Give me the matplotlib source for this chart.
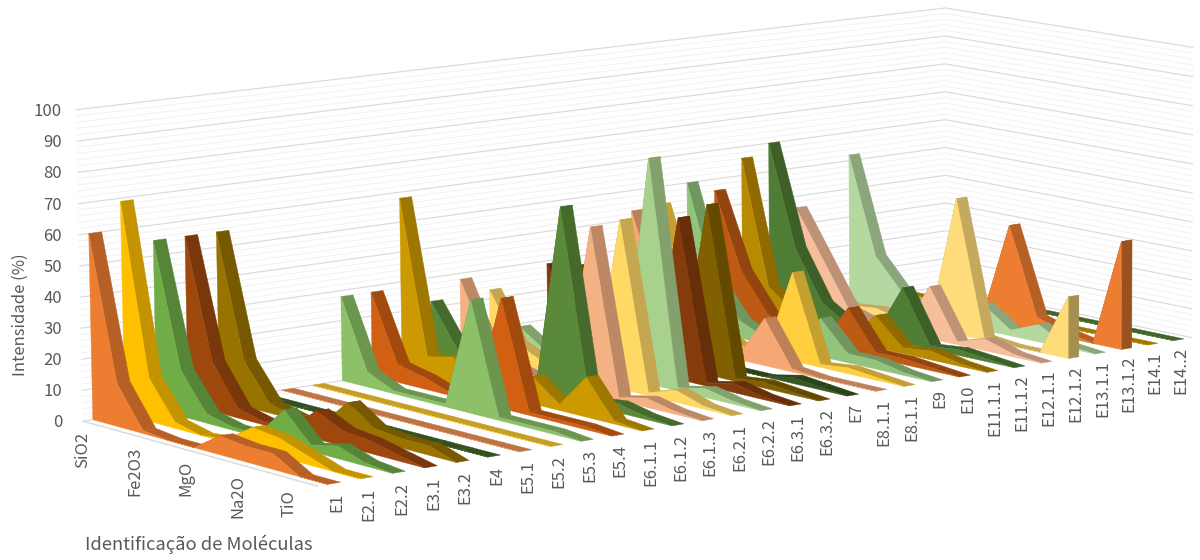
import numpy as np
import matplotlib
matplotlib.use("Agg")
import matplotlib.pyplot as plt

plt.rcParams['font.family'] = ['Noto Sans CJK JP', 'DejaVu Sans']

# ten measured oxides per sample, the axis only labels every other one
oxide_ticks = ["SiO2", "Fe2O3", "MgO", "Na2O", "TiO"]
sample_labels = ["E1", "E2.1", "E2.2", "E3.1", "E3.2", "E4", "E5.1", "E5.2", "E5.3", "E5.4",
                 "E6.1.1", "E6.1.2", "E6.1.3", "E6.2.1", "E6.2.2", "E6.3.1", "E6.3.2", "E7",
                 "E8.1.1", "E8.1.1", "E9", "E10", "E11.1.1", "E11.1.2", "E12.1.1", "E12.1.2",
                 "E13.1.1", "E13.1.2", "E14.1", "E14..2"]

e1 = [60, 14, 1, 0, 0, 6, 5, 5, 0, 0]
e2_1 = [69, 14, 2, 0, 1, 7, 6, 3, 0, 0]
e2_2 = [55, 15, 3, 1, 1, 11, 2, 4, 1, 0]
e3_1 = [55, 16, 3, 1, 1, 9, 5, 4, 2, 0]
e3_2 = [55, 15, 3, 1, 1, 10, 4, 3, 3, 0]
e4 = [0, 0, 0, 0, 0, 0, 0, 0, 0, 0]
e5_1 = [0, 0, 0, 0, 0, 0, 0, 0, 0, 0]
e5_2 = [0, 0, 0, 0, 0, 0, 0, 0, 0, 0]
e5_3 = [28, 5, 1, 1, 1, 37, 1, 1, 1, 0]
e5_4 = [28, 6, 4, 1, 1, 36, 1, 1, 1, 0]
e6_1_1 = [58, 7, 9, 2, 2, 9, 2, 13, 1, 0]
e6_1_2 = [22, 8, 3, 1, 1, 63, 2, 3, 1, 0]
e6_1_3 = [28, 8, 3, 1, 1, 55, 1, 3, 1, 0]
e6_2_1 = [23, 7, 3, 1, 1, 56, 1, 4, 1, 0]
e6_2_2 = [9, 3, 2, 1, 1, 75, 1, 3, 1, 0]
e6_3_1 = [29, 8, 3, 1, 1, 54, 1, 3, 1, 0]
e6_3_2 = [27, 8, 3, 1, 1, 57, 1, 2, 1, 0]
e7 = [0, 0, 0, 0, 0, 0, 0, 2, 1, 0]
e8_1_1a = [43, 15, 5, 1, 1, 16, 1, 0, 0, 0]
e8_1_1b = [44, 15, 5, 1, 1, 30, 1, 2, 1, 0]
e9 = [50, 18, 6, 2, 1, 13, 3, 3, 1, 0]
e10 = [46, 20, 7, 2, 1, 15, 2, 2, 1, 0]
e11_1_1 = [56, 13, 6, 2, 1, 11, 2, 3, 1, 0]
e11_1_2 = [60, 25, 8, 2, 1, 19, 1, 2, 1, 0]
e12_1_1 = [36, 20, 4, 1, 1, 18, 1, 4, 1, 0]
e12_1_2 = [5, 2, 3, 1, 1, 47, 1, 0, 0, 21]
e13_1_1 = [52, 18, 7, 1, 1, 9, 2, 6, 1, 0]
e13_1_2 = [0, 0, 1, 1, 1, 35, 5, 2, 0, 37]
e14_1 = [0, 0, 0, 0, 0, 0, 0, 0, 0, 0]
e14_2 = [0, 0, 0, 0, 0, 0, 0, 0, 0, 0]

series_values = [e1, e2_1, e2_2, e3_1, e3_2, e4, e5_1, e5_2, e5_3, e5_4,
                 e6_1_1, e6_1_2, e6_1_3, e6_2_1, e6_2_2, e6_3_1, e6_3_2, e7,
                 e8_1_1a, e8_1_1b, e9, e10, e11_1_1, e11_1_2, e12_1_1, e12_1_2,
                 e13_1_1, e13_1_2, e14_1, e14_2]

colors = ["#ED7D31", "#FFC000", "#70AD47", "#9E480E", "#997300", "#43682B",
          "#F1975A", "#FFCD33", "#8CC168", "#D26012", "#CC9A00", "#5A8A39",
          "#F4B183", "#FFD966", "#A9D18E", "#843C0C", "#806000", "#385723",
          "#F5A873", "#FFCF40", "#93C47D", "#BD5A14", "#B88A00", "#4E7D33",
          "#F6BE9A", "#FFDC7A", "#B4D8A0", "#ED7D31", "#CC9A00", "#548235"]

n_cat = 9
n_ser = len(series_values)

# camera matrix solved from where the box corners sit on the canvas
box_xyz = [(0, 0, 0), (0, 0, 100), (0, n_ser, 0), (0, n_ser, 100),
           (n_cat, n_ser, 0), (n_cat, n_ser, 100), (n_cat, 0, 0)]
box_px = [(83, 421), (76, 110), (945, 285), (946, 9), (1192, 339), (1192, 46), (318, 486)]
A, b = [], []
for (x, y, z), (px, py) in zip(box_xyz, box_px):
    A.append([x, y, z, 1, 0, 0, 0, 0, -px * x, -px * y, -px * z])
    A.append([0, 0, 0, 0, x, y, z, 1, -py * x, -py * y, -py * z])
    b += [px, py]
p = np.linalg.lstsq(np.array(A, float), np.array(b, float), rcond=None)[0]
P = np.append(p, 1.0).reshape(3, 4)


def project(u, s, z):
    q = P @ np.array([u, s, z, 1.0])
    return q[0] / q[2], q[1] / q[2]


def shade(color, f):
    r, g, b_ = matplotlib.colors.to_rgb(color)
    return (r * f, g * f, b_ * f)


fig = plt.figure(figsize=(12, 5.6), dpi=100)
ax = fig.add_axes([0, 0, 1, 1])
ax.set_xlim(0, 1200)
ax.set_ylim(560, 0)
ax.axis("off")

# walls
for z in range(0, 101, 2):
    major = z % 10 == 0
    c = "#DCDCDC" if major else "#F4F4F4"
    pts = [project(0, 0, z), project(0, n_ser, z), project(n_cat, n_ser, z)]
    ax.plot(*zip(*pts), color=c, lw=0.9, zorder=2 if major else 1)
pts = [project(0, 0, 0), project(n_cat, 0, 0)]
ax.plot(*zip(*pts), color="#D9D9D9", lw=1.0, zorder=2)

# ribbons, back to front
front_off, back_off = 0.3, 0.7
zo = 3
for k in range(n_ser - 1, -1, -1):
    vals = series_values[k]
    col = colors[k]
    s0, s1 = k + front_off, k + back_off
    for u in range(n_cat):
        poly = [project(u, s0, vals[u]), project(u + 1, s0, vals[u + 1]),
                project(u + 1, s1, vals[u + 1]), project(u, s1, vals[u])]
        ax.fill(*zip(*poly), color=shade(col, 0.77), lw=0.3, zorder=zo)
    cap = [project(n_cat, s0, 0), project(n_cat, s1, 0),
           project(n_cat, s1, vals[-1]), project(n_cat, s0, vals[-1])]
    if vals[-1] > 0:
        ax.fill(*zip(*cap), color=shade(col, 0.65), lw=0.3, zorder=zo)
    outline = [project(0, s0, 0)] + [project(u, s0, vals[u]) for u in range(n_cat + 1)] + [project(n_cat, s0, 0)]
    ax.fill(*zip(*outline), color=col, lw=0.3, zorder=zo)
    zo += 1

# tick labels
text_col = "#595959"
for z in range(0, 101, 10):
    x, y = project(0, 0, z)
    ax.text(62, y + 1.5, str(z), ha="right", va="center", fontsize=12, color=text_col)

oxide_x = np.linspace(83, 289, len(oxide_ticks))
oxide_top = np.linspace(432, 490, len(oxide_ticks))
for name, x, y in zip(oxide_ticks, oxide_x, oxide_top):
    ax.text(x, y, name, rotation=90, ha="center", va="top", fontsize=12, color=text_col)

for k, name in enumerate(sample_labels):
    x, y = project(n_cat, k + 0.5, 0)
    ax.text(x + 2.5, y + 10 - 0.1 * k, name, rotation=90, ha="center", va="top", fontsize=12, color=text_col)

ax.text(20, 315, "Intensidade (%)", rotation=90, ha="center", va="center", fontsize=12, color=text_col)
ax.text(85, 544, "Identificação de Moléculas", ha="left", va="center", fontsize=13.2, color=text_col)

fig.savefig("out.png", dpi=100)
